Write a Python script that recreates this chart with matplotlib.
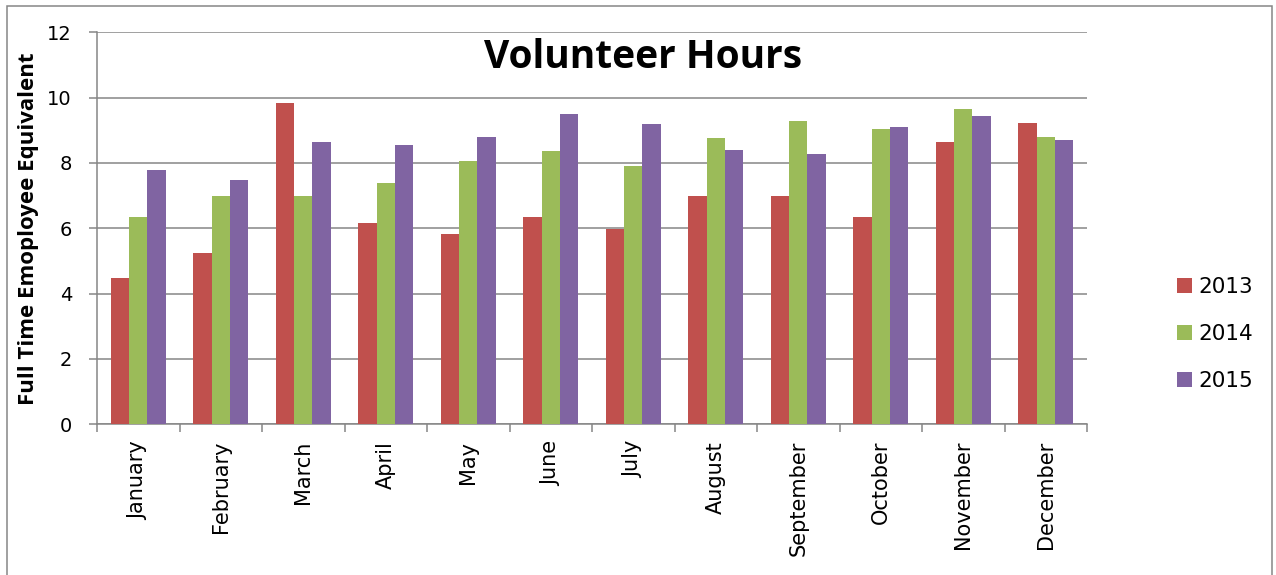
import numpy as np
import matplotlib
matplotlib.use("Agg")
from matplotlib import pyplot as plt
from matplotlib.patches import Rectangle

# data
months = ["January", "February", "March", "April", "May", "June", "July",
          "August", "September", "October", "November", "December"]
years = ["2013", "2014", "2015"]
fte_2013 = [4.47, 5.25, 9.83, 6.16, 5.82, 6.35, 5.98, 6.98, 6.99, 6.35, 8.64, 9.23]
fte_2014 = [6.35, 6.99, 7.00, 7.39, 8.07, 8.36, 7.92, 8.75, 9.28, 9.03, 9.66, 8.80]
fte_2015 = [7.78, 7.47, 8.64, 8.55, 8.81, 9.49, 9.18, 8.39, 8.28, 9.11, 9.43, 8.69]
colors = ["#C0504D", "#9BBB59", "#8064A2"]

W, H = 1276, 575
fig = plt.figure(figsize=(W / 100, H / 100), dpi=100)
ax = fig.add_axes([97 / W, 1 - 424.3 / H, (1087 - 97) / W, (424.3 - 32.3) / H])

grey = "#868686"
x = np.arange(len(months))
bw = 1 / 4.5
for i, (vals, c, yr) in enumerate(zip([fte_2013, fte_2014, fte_2015], colors, years)):
    ax.bar(x + (i - 1) * bw, vals, width=bw, color=c, label=yr, zorder=3)

ax.set_xlim(-0.5, 11.5)
ax.set_ylim(0, 12)
ax.set_yticks(np.arange(0, 13, 2))
ax.yaxis.grid(True, color=grey, lw=1.1, zorder=0)
ax.set_axisbelow(True)

ax.set_xticks(x)
ax.set_xticklabels(months, rotation=90, fontsize=15, family="DejaVu Sans")
ax.set_xticks(np.arange(-0.5, 12, 1), minor=True)
ax.tick_params(axis="x", which="major", length=0, pad=12)
ax.tick_params(axis="x", which="minor", length=6, color=grey, width=1.1, direction="out")
ax.tick_params(axis="y", length=6, color=grey, width=1.1, pad=12, labelsize=14)

for s in ["top", "right"]:
    ax.spines[s].set_visible(False)
for s in ["left", "bottom"]:
    ax.spines[s].set_color(grey)
    ax.spines[s].set_linewidth(1.1)

ax.set_ylabel("Full Time Emoployee Equivalent", fontsize=16, fontweight="bold",
              family="Open Sans")
ax.yaxis.set_label_coords(-58 / 990, 0.5)

fig.text(643 / W, 1 - 57 / H, "Volunteer Hours", fontsize=28, fontweight="bold",
         family="Open Sans", ha="center", va="center")

fig.legend(loc="center left", bbox_to_anchor=(1177 / W, 1 - 334 / H), frameon=False,
           fontsize=15.5, handlelength=0.7, handleheight=0.7, handletextpad=0.3,
           labelspacing=1.25, borderpad=0, borderaxespad=0)

# chart-area border
fig.patches.append(Rectangle((6.5 / W, -0.05), (1272 - 6.5) / W, 1.05 - 5.5 / H,
                             transform=fig.transFigure, fill=False, ec=grey, lw=1.1))

fig.savefig("out.png", dpi=100)
